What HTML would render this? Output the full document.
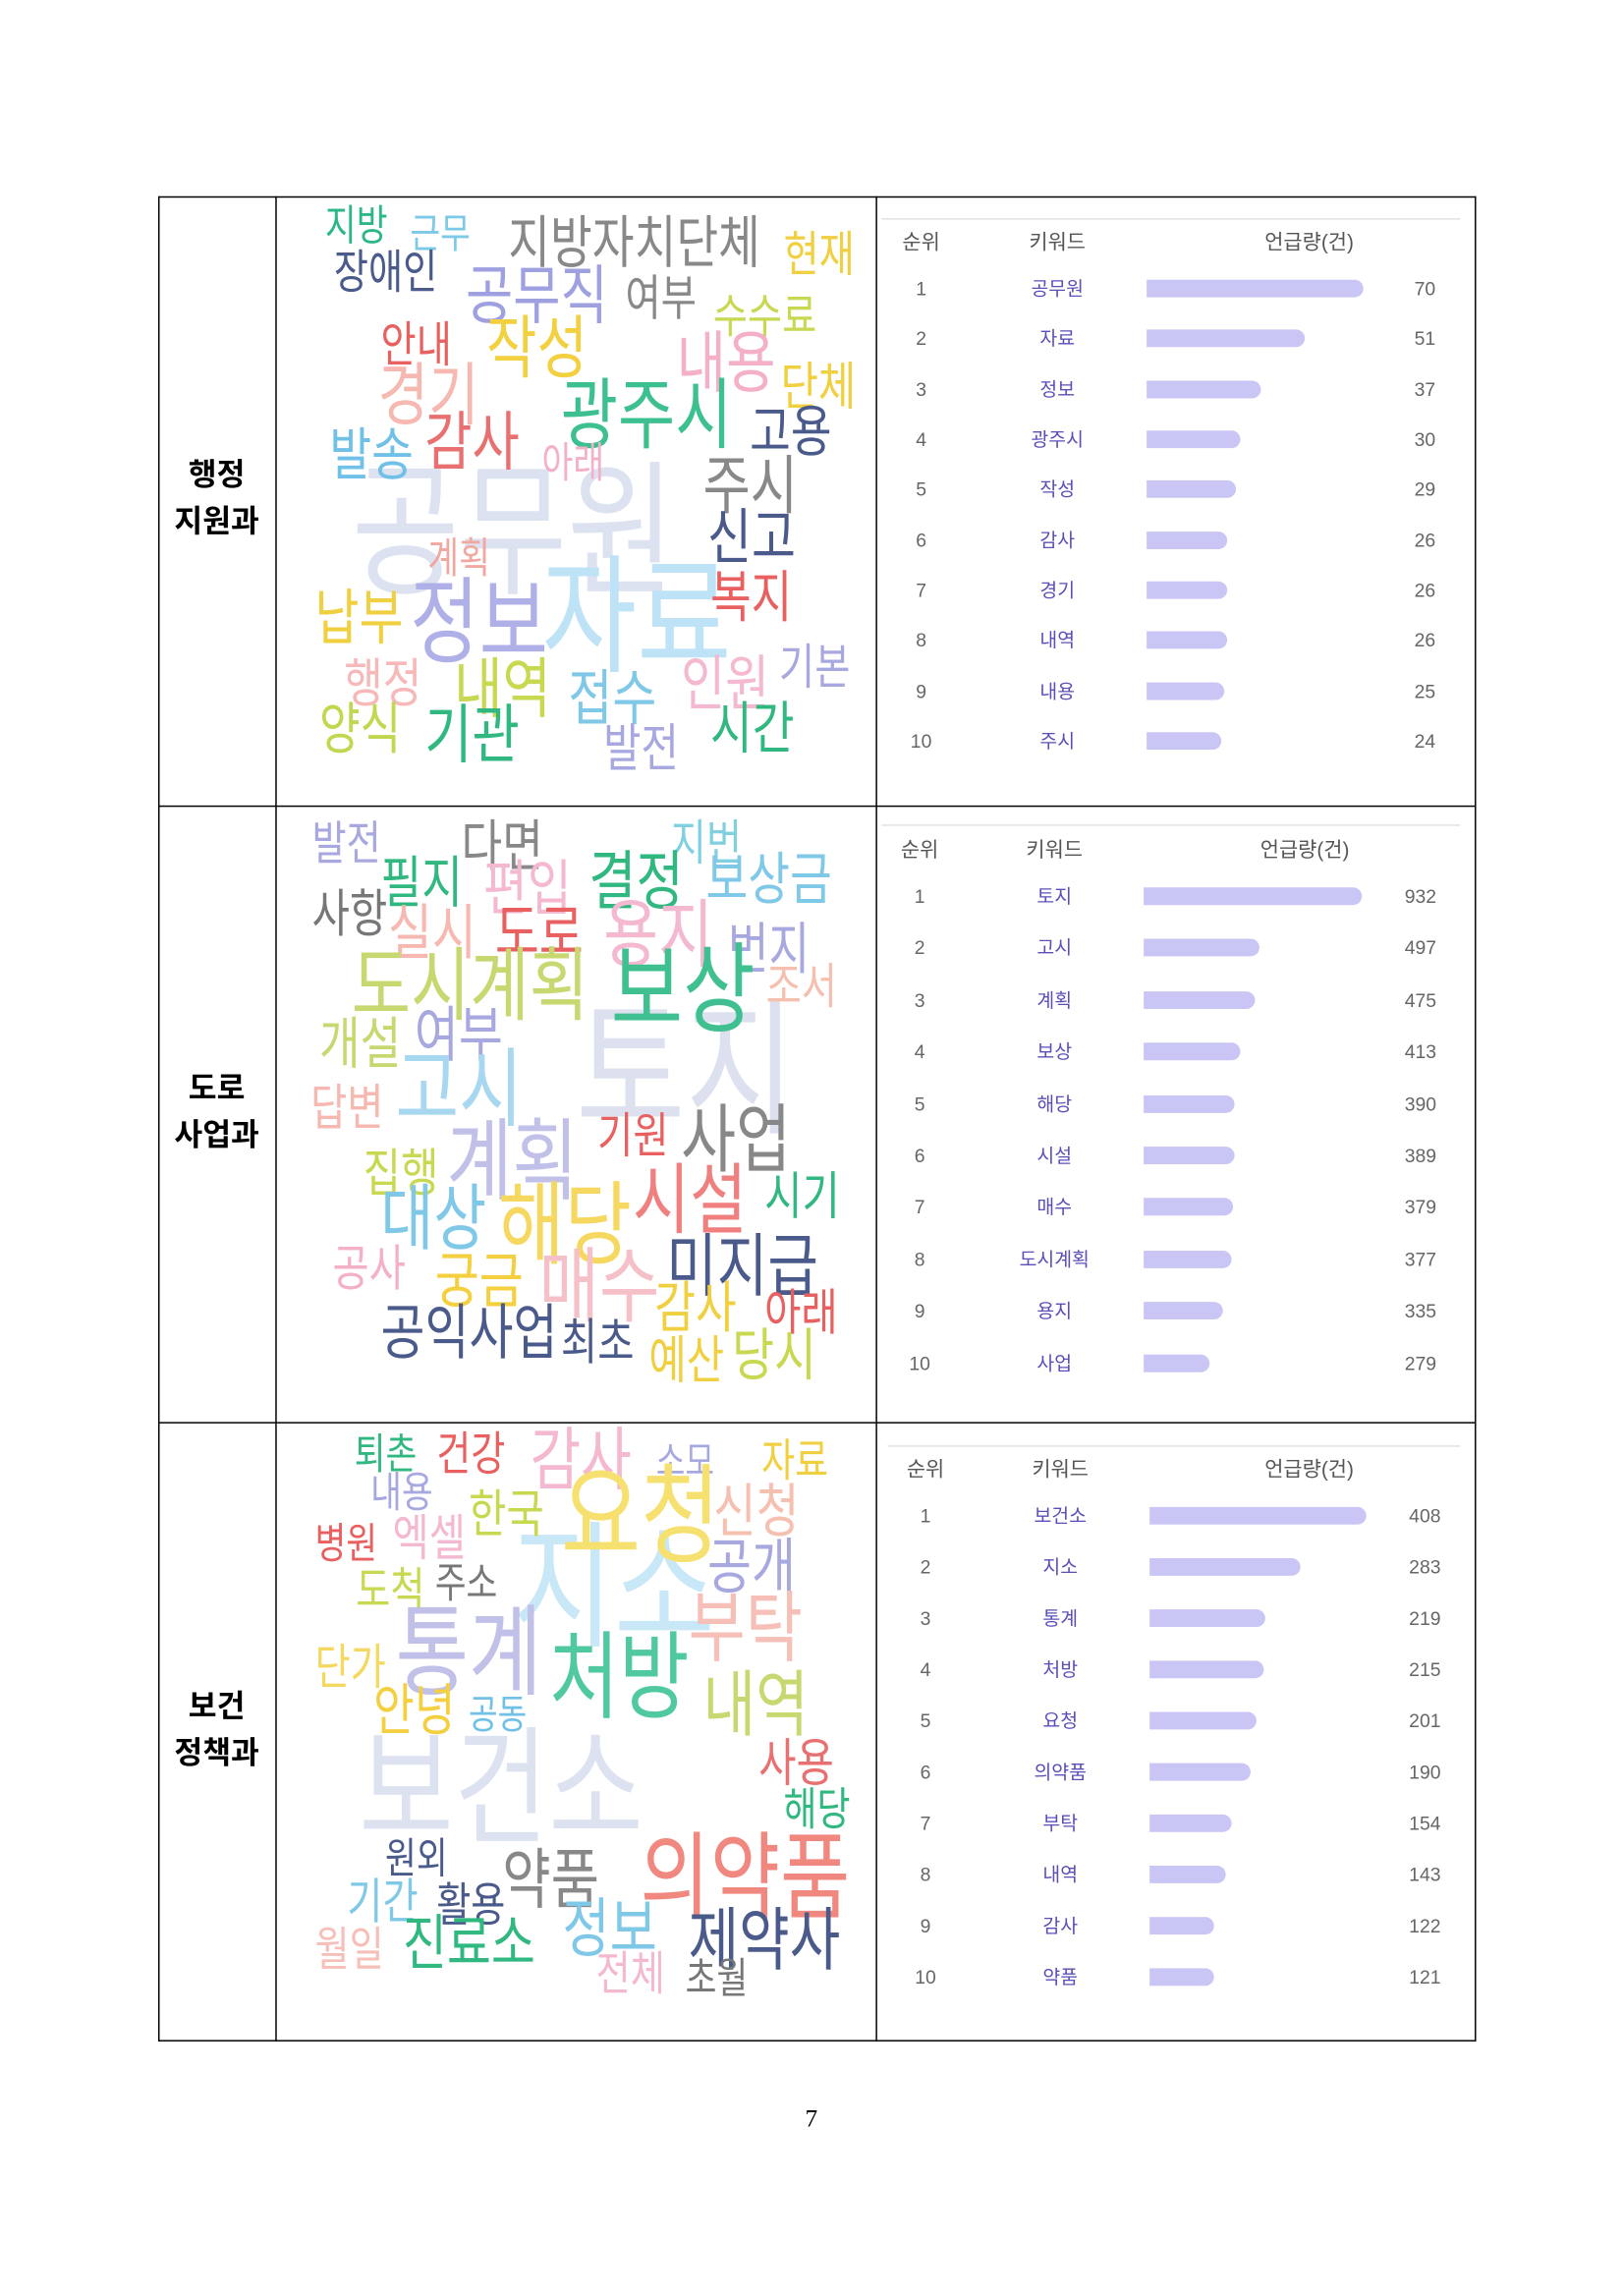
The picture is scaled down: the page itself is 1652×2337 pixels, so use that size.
<!DOCTYPE html>
<html><head><meta charset="utf-8">
<style>
html,body{margin:0;padding:0;background:#fff;}
body{width:1652px;height:2336px;overflow:hidden;position:relative;}
#s{position:absolute;left:0;top:0;width:1110px;height:1568px;transform:scale(1.4906);transform-origin:0 0;font-family:"Liberation Sans","Noto Sans CJK KR",sans-serif;}
.ln{position:absolute;background:#000;}
.w{position:absolute;line-height:1;white-space:nowrap;transform:scaleX(.8);transform-origin:left top;font-family:"Liberation Sans","Noto Sans CJK KR",sans-serif;}
.lab{position:absolute;width:80px;left:108px;text-align:center;font-weight:bold;font-size:21px;line-height:32px;color:#000;font-family:"Liberation Sans","Noto Sans CJK KR",sans-serif;}
.t{position:absolute;font-size:13px;line-height:1;color:#666;transform:translate(-50%,-50%);white-space:nowrap;font-family:"Liberation Sans","Noto Sans CJK KR",sans-serif;}
.h{font-size:14px;color:#555;}
.k{color:#5a4fb8;font-size:13px;}
.b{position:absolute;height:12px;background:#c9c5f5;border-radius:0 6px 6px 0;}
.g{position:absolute;height:1px;background:#e2e2e2;}
</style></head><body><div id="s">
<div class="ln" style="left:108px;top:134px;width:900px;height:1px"></div>
<div class="ln" style="left:108px;top:550px;width:900px;height:1px"></div>
<div class="ln" style="left:108px;top:971px;width:900px;height:1px"></div>
<div class="ln" style="left:108px;top:1393px;width:900px;height:1px"></div>
<div class="ln" style="left:108px;top:134px;width:1px;height:1260px"></div>
<div class="ln" style="left:188px;top:134px;width:1px;height:1260px"></div>
<div class="ln" style="left:598px;top:134px;width:1px;height:1260px"></div>
<div class="ln" style="left:1007px;top:134px;width:1px;height:1260px"></div>

<div class="lab" style="top:309px">행정<br>지원과</div>
<div class="lab" style="top:728px">도로<br>사업과</div>
<div class="lab" style="top:1150px">보건<br>정책과</div>

<!-- cloud 1 -->
<span class="w" style="left:240px;top:314px;font-size:100px;color:#dde2f0">공무원</span>
<span class="w" style="left:370px;top:378px;font-size:88px;color:#bfe3f6">자료</span>
<span class="w" style="left:222px;top:141px;font-size:29px;color:#2cb68a">지방</span>
<span class="w" style="left:280px;top:146px;font-size:28px;color:#7ec8e8">근무</span>
<span class="w" style="left:347px;top:147px;font-size:39px;color:#888">지방자치단체</span>
<span class="w" style="left:535px;top:157px;font-size:33px;color:#f0d040">현재</span>
<span class="w" style="left:228px;top:170px;font-size:32px;color:#4a5a8a">장애인</span>
<span class="w" style="left:318px;top:181px;font-size:44px;color:#9fa0e0">공무직</span>
<span class="w" style="left:427px;top:187px;font-size:33px;color:#888">여부</span>
<span class="w" style="left:487px;top:200px;font-size:32px;color:#c8d850">수수료</span>
<span class="w" style="left:260px;top:219px;font-size:33px;color:#e86060">안내</span>
<span class="w" style="left:332px;top:214px;font-size:47px;color:#f2d040">작성</span>
<span class="w" style="left:462px;top:225px;font-size:46px;color:#f4b0c8">내용</span>
<span class="w" style="left:533px;top:247px;font-size:35px;color:#f0d040">단체</span>
<span class="w" style="left:258px;top:246px;font-size:47px;color:#f6b8b0">경기</span>
<span class="w" style="left:383px;top:258px;font-size:53px;color:#3cc090">광주시</span>
<span class="w" style="left:512px;top:277px;font-size:38px;color:#4a5a8a">고용</span>
<span class="w" style="left:290px;top:281px;font-size:44px;color:#e87070">감사</span>
<span class="w" style="left:225px;top:292px;font-size:39px;color:#70c0e8">발송</span>
<span class="w" style="left:370px;top:303px;font-size:29px;color:#f4b0c8">아래</span>
<span class="w" style="left:480px;top:311px;font-size:44px;color:#888">주시</span>
<span class="w" style="left:483px;top:347px;font-size:41px;color:#4a5a8a">신고</span>
<span class="w" style="left:292px;top:368px;font-size:29px;color:#f0a8a0">계획</span>
<span class="w" style="left:485px;top:390px;font-size:38px;color:#e86060">복지</span>
<span class="w" style="left:215px;top:402px;font-size:41px;color:#f0d040">납부</span>
<span class="w" style="left:280px;top:393px;font-size:64px;color:#b0b0e8">정보</span>
<span class="w" style="left:532px;top:439px;font-size:33px;color:#a8a8e0">기본</span>
<span class="w" style="left:235px;top:449px;font-size:36px;color:#f6b8b8">행정</span>
<span class="w" style="left:310px;top:448px;font-size:45px;color:#c8d850">내역</span>
<span class="w" style="left:465px;top:447px;font-size:41px;color:#f4b8d0">인원</span>
<span class="w" style="left:388px;top:457px;font-size:41px;color:#80c8e8">접수</span>
<span class="w" style="left:218px;top:480px;font-size:38px;color:#c0d850">양식</span>
<span class="w" style="left:290px;top:481px;font-size:44px;color:#30b880">기관</span>
<span class="w" style="left:485px;top:479px;font-size:39px;color:#30b880">시간</span>
<span class="w" style="left:412px;top:494px;font-size:35px;color:#a8a8e0">발전</span>

<!-- cloud 2 -->
<span class="w" style="left:393px;top:680px;font-size:102px;color:#dde0ee">토지</span>
<span class="w" style="left:213px;top:560px;font-size:32px;color:#a8a8e0">발전</span>
<span class="w" style="left:315px;top:560px;font-size:38px;color:#888">다면</span>
<span class="w" style="left:458px;top:559px;font-size:33px;color:#80d0e0">지번</span>
<span class="w" style="left:260px;top:585px;font-size:38px;color:#30b880">필지</span>
<span class="w" style="left:330px;top:587px;font-size:41px;color:#f4b8d0">편입</span>
<span class="w" style="left:402px;top:581px;font-size:44px;color:#30b880">결정</span>
<span class="w" style="left:482px;top:582px;font-size:39px;color:#80c8e8">보상금</span>
<span class="w" style="left:213px;top:607px;font-size:35px;color:#777">사항</span>
<span class="w" style="left:265px;top:617px;font-size:41px;color:#f6b8b0">실시</span>
<span class="w" style="left:338px;top:617px;font-size:41px;color:#e86060">도로</span>
<span class="w" style="left:412px;top:613px;font-size:51px;color:#f4b8d0">용지</span>
<span class="w" style="left:497px;top:630px;font-size:38px;color:#a8a8e0">번지</span>
<span class="w" style="left:523px;top:657px;font-size:33px;color:#f6c0b0">조서</span>
<span class="w" style="left:240px;top:646px;font-size:55px;color:#c8d870">도시계획</span>
<span class="w" style="left:417px;top:643px;font-size:67px;color:#40c090">보상</span>
<span class="w" style="left:218px;top:695px;font-size:38px;color:#c8d870">개설</span>
<span class="w" style="left:283px;top:687px;font-size:41px;color:#a8a8e0">여부</span>
<span class="w" style="left:270px;top:715px;font-size:59px;color:#a8d8f0">고시</span>
<span class="w" style="left:212px;top:740px;font-size:34px;color:#f6b8b0">답변</span>
<span class="w" style="left:408px;top:759px;font-size:33px;color:#e86060">기원</span>
<span class="w" style="left:465px;top:753px;font-size:51px;color:#888">사업</span>
<span class="w" style="left:305px;top:763px;font-size:61px;color:#c0c0e8">계획</span>
<span class="w" style="left:248px;top:784px;font-size:35px;color:#c8d850">집행</span>
<span class="w" style="left:432px;top:794px;font-size:53px;color:#f08080">시설</span>
<span class="w" style="left:522px;top:800px;font-size:35px;color:#30b880">시기</span>
<span class="w" style="left:260px;top:809px;font-size:49px;color:#80c8e8">대상</span>
<span class="w" style="left:340px;top:807px;font-size:62px;color:#f6d860">해당</span>
<span class="w" style="left:227px;top:850px;font-size:34px;color:#f4b0c8">공사</span>
<span class="w" style="left:297px;top:855px;font-size:41px;color:#f4d040">궁금</span>
<span class="w" style="left:368px;top:851px;font-size:56px;color:#f6c0c8">매수</span>
<span class="w" style="left:455px;top:841px;font-size:47px;color:#4a5a8a">미지급</span>
<span class="w" style="left:447px;top:875px;font-size:38px;color:#f0d040">감사</span>
<span class="w" style="left:522px;top:880px;font-size:34px;color:#e86060">아래</span>
<span class="w" style="left:260px;top:890px;font-size:41px;color:#4a5a8a">공익사업</span>
<span class="w" style="left:383px;top:900px;font-size:34px;color:#4a5a8a">최초</span>
<span class="w" style="left:443px;top:912px;font-size:35px;color:#f0d040">예산</span>
<span class="w" style="left:500px;top:907px;font-size:39px;color:#c8d850">당시</span>

<!-- cloud 3 -->
<span class="w" style="left:245px;top:1178px;font-size:88px;color:#dde2f0">보건소</span>
<span class="w" style="left:350px;top:1038px;font-size:94px;color:#c8e8f8">지소</span>
<span class="w" style="left:242px;top:980px;font-size:29px;color:#30b880">퇴촌</span>
<span class="w" style="left:298px;top:977px;font-size:32px;color:#e86060">건강</span>
<span class="w" style="left:362px;top:973px;font-size:47px;color:#f4b8d0">감사</span>
<span class="w" style="left:448px;top:985px;font-size:27px;color:#a8a8e0">소모</span>
<span class="w" style="left:520px;top:982px;font-size:31px;color:#f0d040">자료</span>
<span class="w" style="left:253px;top:1006px;font-size:29px;color:#a8a8e0">내용</span>
<span class="w" style="left:320px;top:1017px;font-size:35px;color:#c8d850">한국</span>
<span class="w" style="left:383px;top:999px;font-size:74px;color:#f6e070">요청</span>
<span class="w" style="left:487px;top:1013px;font-size:40px;color:#f6c0b0">신청</span>
<span class="w" style="left:215px;top:1041px;font-size:29px;color:#e86060">병원</span>
<span class="w" style="left:268px;top:1034px;font-size:34px;color:#f4b8d0">엑셀</span>
<span class="w" style="left:483px;top:1050px;font-size:41px;color:#a8a8e0">공개</span>
<span class="w" style="left:243px;top:1070px;font-size:32px;color:#c8d850">도척</span>
<span class="w" style="left:297px;top:1068px;font-size:29px;color:#777">주소</span>
<span class="w" style="left:470px;top:1086px;font-size:53px;color:#f6c0b8">부탁</span>
<span class="w" style="left:215px;top:1122px;font-size:33px;color:#f4d860">단가</span>
<span class="w" style="left:270px;top:1095px;font-size:68px;color:#c0c0e8">통계</span>
<span class="w" style="left:375px;top:1113px;font-size:65px;color:#50c8a0">처방</span>
<span class="w" style="left:480px;top:1141px;font-size:49px;color:#c8d870">내역</span>
<span class="w" style="left:255px;top:1150px;font-size:38px;color:#f4d040">안녕</span>
<span class="w" style="left:320px;top:1158px;font-size:27px;color:#70c0e8">공동</span>
<span class="w" style="left:518px;top:1187px;font-size:35px;color:#e87070">사용</span>
<span class="w" style="left:535px;top:1220px;font-size:31px;color:#30b880">해당</span>
<span class="w" style="left:263px;top:1256px;font-size:29px;color:#4a5a8a">원외</span>
<span class="w" style="left:343px;top:1261px;font-size:45px;color:#888">약품</span>
<span class="w" style="left:437px;top:1250px;font-size:65px;color:#f08880">의약품</span>
<span class="w" style="left:237px;top:1282px;font-size:33px;color:#80c8e8">기간</span>
<span class="w" style="left:298px;top:1285px;font-size:32px;color:#4a5a8a">활용</span>
<span class="w" style="left:384px;top:1296px;font-size:44px;color:#80c8e8">정보</span>
<span class="w" style="left:275px;top:1307px;font-size:41px;color:#30b880">진료소</span>
<span class="w" style="left:470px;top:1301px;font-size:47px;color:#4a5a8a">제약사</span>
<span class="w" style="left:215px;top:1315px;font-size:32px;color:#f6c0b8">월일</span>
<span class="w" style="left:407px;top:1332px;font-size:32px;color:#f4b8d0">전체</span>
<span class="w" style="left:468px;top:1338px;font-size:29px;color:#777">초월</span>

<!-- table 1 -->
<div class="g" style="left:602px;top:149px;width:395px"></div>
<div class="t h" style="left:629px;top:165px">순위</div>
<div class="t h" style="left:722px;top:165px">키워드</div>
<div class="t h" style="left:894px;top:165px">언급량(건)</div>
<div class="t" style="left:629px;top:197px">1</div><div class="t k" style="left:722px;top:197px">공무원</div><div class="b" style="left:783px;top:191px;width:148px"></div><div class="t" style="left:973px;top:197px">70</div>
<div class="t" style="left:629px;top:231px">2</div><div class="t k" style="left:722px;top:231px">자료</div><div class="b" style="left:783px;top:225px;width:108px"></div><div class="t" style="left:973px;top:231px">51</div>
<div class="t" style="left:629px;top:266px">3</div><div class="t k" style="left:722px;top:266px">정보</div><div class="b" style="left:783px;top:260px;width:78px"></div><div class="t" style="left:973px;top:266px">37</div>
<div class="t" style="left:629px;top:300px">4</div><div class="t k" style="left:722px;top:300px">광주시</div><div class="b" style="left:783px;top:294px;width:64px"></div><div class="t" style="left:973px;top:300px">30</div>
<div class="t" style="left:629px;top:334px">5</div><div class="t k" style="left:722px;top:334px">작성</div><div class="b" style="left:783px;top:328px;width:61px"></div><div class="t" style="left:973px;top:334px">29</div>
<div class="t" style="left:629px;top:369px">6</div><div class="t k" style="left:722px;top:369px">감사</div><div class="b" style="left:783px;top:363px;width:55px"></div><div class="t" style="left:973px;top:369px">26</div>
<div class="t" style="left:629px;top:403px">7</div><div class="t k" style="left:722px;top:403px">경기</div><div class="b" style="left:783px;top:397px;width:55px"></div><div class="t" style="left:973px;top:403px">26</div>
<div class="t" style="left:629px;top:437px">8</div><div class="t k" style="left:722px;top:437px">내역</div><div class="b" style="left:783px;top:431px;width:55px"></div><div class="t" style="left:973px;top:437px">26</div>
<div class="t" style="left:629px;top:472px">9</div><div class="t k" style="left:722px;top:472px">내용</div><div class="b" style="left:783px;top:466px;width:53px"></div><div class="t" style="left:973px;top:472px">25</div>
<div class="t" style="left:629px;top:506px">10</div><div class="t k" style="left:722px;top:506px">주시</div><div class="b" style="left:783px;top:500px;width:51px"></div><div class="t" style="left:973px;top:506px">24</div>

<!-- table 2 -->
<div class="g" style="left:602px;top:563px;width:395px"></div>
<div class="t h" style="left:628px;top:580px">순위</div>
<div class="t h" style="left:720px;top:580px">키워드</div>
<div class="t h" style="left:891px;top:580px">언급량(건)</div>
<div class="t" style="left:628px;top:612px">1</div><div class="t k" style="left:720px;top:612px">토지</div><div class="b" style="left:781px;top:606px;width:149px"></div><div class="t" style="left:970px;top:612px">932</div>
<div class="t" style="left:628px;top:647px">2</div><div class="t k" style="left:720px;top:647px">고시</div><div class="b" style="left:781px;top:641px;width:79px"></div><div class="t" style="left:970px;top:647px">497</div>
<div class="t" style="left:628px;top:683px">3</div><div class="t k" style="left:720px;top:683px">계획</div><div class="b" style="left:781px;top:677px;width:76px"></div><div class="t" style="left:970px;top:683px">475</div>
<div class="t" style="left:628px;top:718px">4</div><div class="t k" style="left:720px;top:718px">보상</div><div class="b" style="left:781px;top:712px;width:66px"></div><div class="t" style="left:970px;top:718px">413</div>
<div class="t" style="left:628px;top:754px">5</div><div class="t k" style="left:720px;top:754px">해당</div><div class="b" style="left:781px;top:748px;width:62px"></div><div class="t" style="left:970px;top:754px">390</div>
<div class="t" style="left:628px;top:789px">6</div><div class="t k" style="left:720px;top:789px">시설</div><div class="b" style="left:781px;top:783px;width:62px"></div><div class="t" style="left:970px;top:789px">389</div>
<div class="t" style="left:628px;top:824px">7</div><div class="t k" style="left:720px;top:824px">매수</div><div class="b" style="left:781px;top:818px;width:61px"></div><div class="t" style="left:970px;top:824px">379</div>
<div class="t" style="left:628px;top:860px">8</div><div class="t k" style="left:720px;top:860px">도시계획</div><div class="b" style="left:781px;top:854px;width:60px"></div><div class="t" style="left:970px;top:860px">377</div>
<div class="t" style="left:628px;top:895px">9</div><div class="t k" style="left:720px;top:895px">용지</div><div class="b" style="left:781px;top:889px;width:54px"></div><div class="t" style="left:970px;top:895px">335</div>
<div class="t" style="left:628px;top:931px">10</div><div class="t k" style="left:720px;top:931px">사업</div><div class="b" style="left:781px;top:925px;width:45px"></div><div class="t" style="left:970px;top:931px">279</div>

<!-- table 3 -->
<div class="g" style="left:606px;top:987px;width:391px"></div>
<div class="t h" style="left:632px;top:1003px">순위</div>
<div class="t h" style="left:724px;top:1003px">키워드</div>
<div class="t h" style="left:894px;top:1003px">언급량(건)</div>
<div class="t" style="left:632px;top:1035px">1</div><div class="t k" style="left:724px;top:1035px">보건소</div><div class="b" style="left:785px;top:1029px;width:148px"></div><div class="t" style="left:973px;top:1035px">408</div>
<div class="t" style="left:632px;top:1070px">2</div><div class="t k" style="left:724px;top:1070px">지소</div><div class="b" style="left:785px;top:1064px;width:103px"></div><div class="t" style="left:973px;top:1070px">283</div>
<div class="t" style="left:632px;top:1105px">3</div><div class="t k" style="left:724px;top:1105px">통계</div><div class="b" style="left:785px;top:1099px;width:79px"></div><div class="t" style="left:973px;top:1105px">219</div>
<div class="t" style="left:632px;top:1140px">4</div><div class="t k" style="left:724px;top:1140px">처방</div><div class="b" style="left:785px;top:1134px;width:78px"></div><div class="t" style="left:973px;top:1140px">215</div>
<div class="t" style="left:632px;top:1175px">5</div><div class="t k" style="left:724px;top:1175px">요청</div><div class="b" style="left:785px;top:1169px;width:73px"></div><div class="t" style="left:973px;top:1175px">201</div>
<div class="t" style="left:632px;top:1210px">6</div><div class="t k" style="left:724px;top:1210px">의약품</div><div class="b" style="left:785px;top:1204px;width:69px"></div><div class="t" style="left:973px;top:1210px">190</div>
<div class="t" style="left:632px;top:1245px">7</div><div class="t k" style="left:724px;top:1245px">부탁</div><div class="b" style="left:785px;top:1239px;width:56px"></div><div class="t" style="left:973px;top:1245px">154</div>
<div class="t" style="left:632px;top:1280px">8</div><div class="t k" style="left:724px;top:1280px">내역</div><div class="b" style="left:785px;top:1274px;width:52px"></div><div class="t" style="left:973px;top:1280px">143</div>
<div class="t" style="left:632px;top:1315px">9</div><div class="t k" style="left:724px;top:1315px">감사</div><div class="b" style="left:785px;top:1309px;width:44px"></div><div class="t" style="left:973px;top:1315px">122</div>
<div class="t" style="left:632px;top:1350px">10</div><div class="t k" style="left:724px;top:1350px">약품</div><div class="b" style="left:785px;top:1344px;width:44px"></div><div class="t" style="left:973px;top:1350px">121</div>

<div style="position:absolute;left:534px;width:40px;top:1437px;text-align:center;font-family:'Liberation Serif',serif;font-size:17px;line-height:20px;color:#000">7</div>
</div></body></html>
